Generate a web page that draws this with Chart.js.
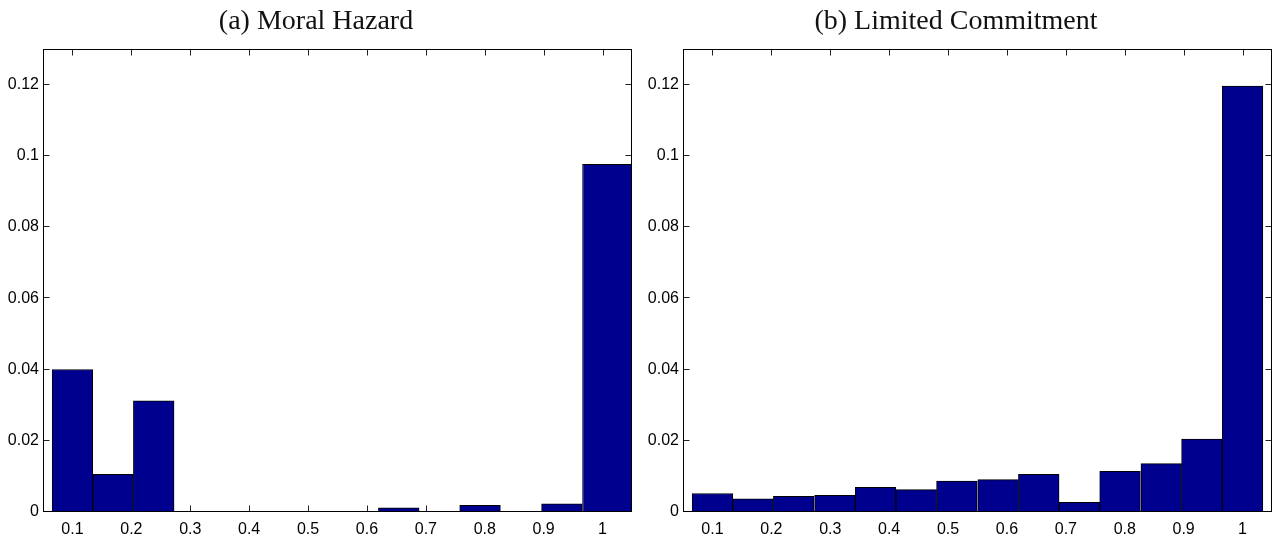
<!DOCTYPE html>
<html><head><meta charset="utf-8">
<script src="https://cdn.jsdelivr.net/npm/chart.js@4.4.1/dist/chart.umd.min.js"></script>
<style>
html,body{margin:0;padding:0;background:#fff;}
#wrap{width:1280px;height:536px;display:flex;}
.panel{width:640px;height:536px;}
canvas{display:block;}
</style></head><body>
<div id="wrap">
  <div class="panel"><canvas id="ca" width="640" height="536"></canvas></div>
  <div class="panel"><canvas id="cb" width="640" height="536"></canvas></div>
</div>
<script>
// ---- data ----
const titles = ["(a) Moral Hazard", "(b) Limited Commitment"];
const binCenters = [0.1, 0.169, 0.238, 0.308, 0.377, 0.446, 0.515, 0.585, 0.654, 0.723, 0.792, 0.862, 0.931, 1.0];
const moralHazard = [0.0400, 0.0106, 0.0312, 0, 0, 0, 0, 0, 0.0012, 0, 0.0019, 0, 0.0023, 0.0977];
const limitedCommitment = [0.0052, 0.0037, 0.0044, 0.0047, 0.0069, 0.0063, 0.0087, 0.0091, 0.0106, 0.0027, 0.0114, 0.0136, 0.0205, 0.1196];
const xTicks = [0.1, 0.2, 0.3, 0.4, 0.5, 0.6, 0.7, 0.8, 0.9, 1];
const yTicks = [0, 0.02, 0.04, 0.06, 0.08, 0.1, 0.12];
const xRange = [0.05, 1.05];
const yRange = [0, 0.13];

// ---- styles ----
const barFill = 'rgb(0,0,143)';
const tickFont = {family: "'Liberation Sans', Arial, sans-serif", size: 16};
const titleFont = {family: "'Liberation Serif', 'Times New Roman', serif", size: 28, weight: 'normal', lineHeight: 1.2};

const frame = {
  id: 'frame',
  beforeDatasetsDraw(chart) {
    const {ctx, chartArea: a, scales: {x, y}} = chart;
    const L = 6;
    ctx.save();
    ctx.strokeStyle = '#222';
    ctx.lineWidth = 1;
    ctx.beginPath();
    const top = Math.round(a.top) + 0.5, bot = Math.round(a.bottom) - 0.5;
    const lft = Math.round(a.left) + 0.5, rgt = Math.round(a.right) - 0.5;
    x.ticks.forEach(t => {
      const px = Math.round(x.getPixelForValue(t.value)) + 0.5;
      ctx.moveTo(px, bot); ctx.lineTo(px, bot - L);
      ctx.moveTo(px, top); ctx.lineTo(px, top + L);
    });
    y.ticks.forEach(t => {
      const py = Math.round(y.getPixelForValue(t.value)) - 0.5;
      ctx.moveTo(lft, py); ctx.lineTo(lft + L, py);
      ctx.moveTo(rgt, py); ctx.lineTo(rgt - L, py);
    });
    ctx.stroke();
    ctx.restore();
  },
  afterDatasetsDraw(chart) {
    const {ctx, chartArea: a} = chart;
    ctx.save();
    ctx.strokeStyle = '#000';
    ctx.lineWidth = 1;
    const top = Math.round(a.top) + 0.5, bot = Math.round(a.bottom) - 0.5;
    const lft = Math.round(a.left) + 0.5, rgt = Math.round(a.right) - 0.5;
    ctx.strokeRect(lft, top, rgt - lft, bot - top);
    ctx.restore();
  }
};

function barDataset(xs, ys, extra) {
  return Object.assign({
    data: xs.map((v, i) => ({x: v, y: ys[i]})),
    backgroundColor: barFill,
    borderColor: '#000',
    borderWidth: 1,
    borderSkipped: false,
    barPercentage: 1,
    categoryPercentage: 1,
    grouped: false
  }, extra || {});
}

function makeChart(id, title, datasets) {
  return new Chart(document.getElementById(id), {
    type: 'bar',
    data: {datasets},
    plugins: [frame],
    options: {
      responsive: false,
      animation: false,
      devicePixelRatio: 1,
      layout: {padding: {left: 0, right: 8, top: 0, bottom: 0}},
      plugins: {
        legend: {display: false},
        tooltip: {enabled: false},
        title: {display: true, text: title, color: '#111', font: titleFont, padding: {top: 5, bottom: 10.4}}
      },
      scales: {
        x: {
          type: 'linear', min: xRange[0], max: xRange[1], offset: false,
          grid: {display: false}, border: {display: false},
          afterBuildTicks: s => { s.ticks = xTicks.map(v => ({value: v})); },
          afterFit: s => { s.height = 24; },
          ticks: {font: tickFont, color: '#000', padding: 0, maxRotation: 0, autoSkip: false, callback: v => String(v)}
        },
        y: {
          type: 'linear', min: yRange[0], max: yRange[1],
          grid: {display: false, drawTicks: false}, border: {display: false},
          afterBuildTicks: s => { s.ticks = yTicks.map(v => ({value: v})); },
          afterFit: s => { s.width = 43; },
          ticks: {font: tickFont, color: '#000', padding: 4, autoSkip: false, callback: v => String(v)}
        }
      }
    }
  });
}

// Panel (a): last bin extends to the right axis limit in the reference
const n = binCenters.length;
const binWidth = binCenters[n - 1] - binCenters[n - 2];
const lastLeft = binCenters[n - 1] - binWidth / 2;
const lastCenterA = (lastLeft + xRange[1]) / 2;
const lastRatioA = (xRange[1] - lastLeft) / binWidth;

makeChart('ca', titles[0], [
  barDataset(binCenters.slice(0, n - 1), moralHazard.slice(0, n - 1)),
  barDataset([lastCenterA], [moralHazard[n - 1]], {barPercentage: lastRatioA})
]);
makeChart('cb', titles[1], [
  barDataset(binCenters, limitedCommitment)
]);
</script>
</body></html>
